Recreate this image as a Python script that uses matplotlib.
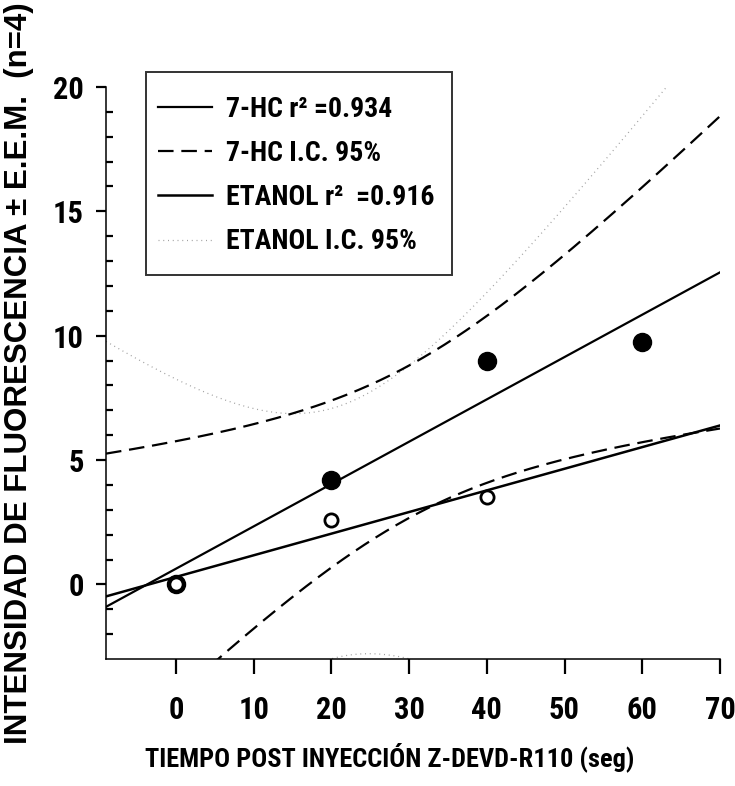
import numpy as np
import matplotlib.pyplot as plt
from matplotlib import font_manager
from matplotlib.font_manager import FontProperties
from matplotlib.lines import Line2D
from matplotlib.patches import Rectangle

# data
hc_x = [0, 20, 40, 60]
hc_y = [0.0, 4.2, 9.0, 9.75]
et_x = [0, 20, 40]
et_y = [0.02, 2.6, 3.5]

hc_r2 = '0.934'
et_r2 = '0.916'

x_ticks = [0, 10, 20, 30, 40, 50, 60, 70]
y_ticks = [0, 5, 10, 15, 20]

# student t, 95% two sided
t_hc = 4.303   # df = 2
t_et = 12.706  # df = 1


def is_bold(w):
    if isinstance(w, str):
        return 'bold' in w or w in ('heavy', 'black')
    return w >= 600


# look for a condensed bold sans (the original uses Arial Narrow Bold)
prefer = ['Liberation Sans Narrow', 'Roboto Condensed', 'Open Sans Condensed',
          'DejaVu Sans Condensed', 'Noto Sans Condensed']
cond_file = None
fonts = font_manager.fontManager.ttflist
for name in prefer:
    for f in fonts:
        if f.name == name and is_bold(f.weight) and f.style == 'normal':
            cond_file = f.fname
            break
    if cond_file:
        break
if cond_file is None:
    for f in fonts:
        if f.stretch in ('condensed', 'semi-condensed', 'extra-condensed') \
                and is_bold(f.weight) and f.style == 'normal':
            cond_file = f.fname
            break


def cfont(size):
    if cond_file:
        return FontProperties(fname=cond_file, size=size)
    return FontProperties(family='Liberation Sans', weight='bold', size=size * 0.85)


plt.rcParams['font.family'] = ['Liberation Sans', 'DejaVu Sans']
plt.rcParams['font.weight'] = 'bold'


def fit_band(x, y, t, xs):
    x = np.asarray(x, float)
    y = np.asarray(y, float)
    b, a = np.polyfit(x, y, 1)
    res = y - (a + b * x)
    s = np.sqrt(np.sum(res ** 2) / (len(x) - 2))
    sxx = np.sum((x - x.mean()) ** 2)
    fit = a + b * xs
    hw = t * s * np.sqrt(1.0 / len(x) + (xs - x.mean()) ** 2 / sxx)
    return fit, fit - hw, fit + hw


xs = np.linspace(-9, 70, 400)
hc_fit, hc_lo, hc_hi = fit_band(hc_x, hc_y, t_hc, xs)
et_fit, et_lo, et_hi = fit_band(et_x, et_y, t_et, xs)

fig = plt.figure(figsize=(7.35, 7.86), dpi=100)
ax = fig.add_axes([106 / 735, 1 - 659 / 786, 614 / 735, 572 / 786])

ax.plot(xs, hc_fit, color='black', lw=1.6, zorder=3)
ax.plot(xs, hc_lo, color='black', lw=1.6, dashes=(7, 3.5), zorder=3)
ax.plot(xs, hc_hi, color='black', lw=1.6, dashes=(7, 3.5), zorder=3)
ax.plot(xs, et_fit, color='black', lw=1.8, zorder=3)
ax.plot(xs, et_lo, color='#a0a0a0', lw=0.9, dashes=(0.8, 3), zorder=2)
ax.plot(xs, et_hi, color='#a0a0a0', lw=0.9, dashes=(0.8, 3), zorder=2)

ax.plot(hc_x, hc_y, 'o', ms=13, color='black', zorder=4)
ax.plot(et_x, et_y, 'o', ms=9.5, mfc='white', mec='black', mew=2, zorder=5)

ax.set_xlim(-9, 70)
ax.set_ylim(-3, 20)
ax.spines['top'].set_visible(False)
ax.spines['right'].set_visible(False)
for sp in ('left', 'bottom'):
    ax.spines[sp].set_linewidth(1.1)

ax.set_xticks(x_ticks)
ax.set_yticks(y_ticks)
ax.set_yticks(np.arange(-2, 20, 1), minor=True)
ax.tick_params(axis='x', direction='out', length=11, width=1.6, pad=15)
ax.tick_params(axis='y', which='major', direction='out', length=7, width=1.6,
               pad=9)
ax.tick_params(axis='y', which='minor', direction='in', length=5, width=1.6)
for lab in ax.get_xticklabels() + ax.get_yticklabels():
    lab.set_fontproperties(cfont(22))

ax.set_xlabel('TIEMPO POST INYECCIÓN Z-DEVD-R110 (seg)',
              fontproperties=cfont(19))
ax.xaxis.set_label_coords(0.4625, -0.145)
ax.set_ylabel('INTENSIDAD DE FLUORESCENCIA ± E.E.M.  (n=4)', fontsize=22.5,
              fontweight='bold')
ax.yaxis.set_label_coords(-0.118, 0.5)

# legend frame, then the entries inside it
box = Rectangle((146 / 735, 1 - 275 / 786), 306 / 735, 203 / 786,
                transform=fig.transFigure, facecolor='white',
                edgecolor='#333333', lw=1.4, zorder=5)
fig.patches.append(box)

handles = [
    Line2D([], [], color='black', lw=1.6),
    Line2D([], [], color='black', lw=1.6, dashes=(7, 3.5)),
    Line2D([], [], color='black', lw=1.8),
    Line2D([], [], color='#a0a0a0', lw=0.9, dashes=(0.8, 3)),
]
labels = [
    '7-HC r² =' + hc_r2,
    '7-HC I.C. 95%',
    'ETANOL r²  =' + et_r2,
    'ETANOL I.C. 95%',
]
leg = fig.legend(handles, labels, loc='center left',
                 bbox_to_anchor=(158 / 735, 1 - 175.5 / 786),
                 bbox_transform=fig.transFigure, borderaxespad=0,
                 borderpad=0, frameon=False, handlelength=1.95,
                 handletextpad=0.5, labelspacing=0.62, prop=cfont(20))
leg.set_zorder(6)

fig.savefig('out.png', dpi=100)
